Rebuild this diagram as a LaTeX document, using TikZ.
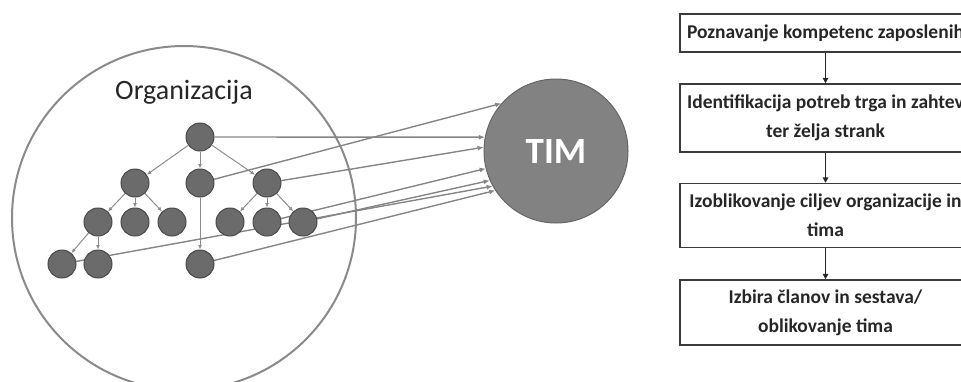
\documentclass[tikz,border=0pt]{standalone}
\usepackage{fontspec}
\setmainfont{Carlito}
\usetikzlibrary{arrows.meta}
\pgfdeclarelayer{bg}
\pgfsetlayers{bg,main}
\definecolor{nodefill}{HTML}{6B6B6B}
\definecolor{nodeedge}{HTML}{4A4A4A}
\definecolor{treeline}{HTML}{8C8C8C}
\definecolor{linkgray}{HTML}{858585}
\definecolor{orgedge}{HTML}{8A8A8A}
\definecolor{timfill}{HTML}{828282}
\definecolor{timedge}{HTML}{666666}
\definecolor{boxedge}{HTML}{3A3A3A}
\definecolor{txt}{HTML}{262626}
\begin{document}
\begin{tikzpicture}[x=1pt,y=-1pt,
  member/.style={circle,fill=nodefill,draw=nodeedge,line width=1pt,minimum size=28pt,inner sep=0pt},
  tree/.style={draw=treeline,line width=1pt,-{Latex[length=4.5pt,width=4pt]}},
  link/.style={draw=linkgray,line width=1.4pt,-{Latex[length=6pt,width=5pt]}},
  box/.style={draw=boxedge,line width=1.4pt,minimum width=291pt,align=center,text=txt,
    font=\bfseries\fontsize{19.5}{29}\selectfont,inner sep=0pt},
  flow/.style={draw=black!85,line width=1.3pt,-{Triangle[length=5.5pt,width=5.5pt]}}
]
\useasboundingbox (0,0) rectangle (961,381);
\clip (0,0) rectangle (961,381);

% organization members
\node[member] (root) at (200,137) {};
\node[member] (l2a) at (135,183) {};
\node[member] (l2b) at (200,183) {};
\node[member] (l2c) at (267,183) {};
\node[member] (l3a) at (98,222) {};
\node[member] (l3b) at (135,222) {};
\node[member] (l3c) at (172,222) {};
\node[member] (l3d) at (230,222) {};
\node[member] (l3e) at (267,222) {};
\node[member] (l3f) at (303,222) {};
\node[member] (l4a) at (62,264) {};
\node[member] (l4b) at (98,264) {};
\node[member] (l4c) at (200,264) {};

\node[font=\fontsize{28}{30}\selectfont,text=txt] (orglabel) at (184,92) {Organizacija};

\node[circle,fill=timfill,draw=timedge,line width=1pt,minimum size=144pt,inner sep=0pt,
  text=white,font=\bfseries\fontsize{37}{40}\selectfont] (tim) at (556,151) {TIM};

% flowchart
\node[box,minimum height=38pt] (b1) at (825.5,33) {Poznavanje kompetenc zaposlenih};
\node[box,minimum height=68pt] (b2) at (825.5,118) {Identifikacija potreb trga in zahtev\\ter želja strank};
\node[box,minimum height=64pt] (b3) at (825.5,215.5) {Izoblikovanje ciljev organizacije in\\tima};
\node[box,minimum height=65pt] (b4) at (825.5,312.5) {Izbira članov in sestava/\\oblikovanje tima};
\draw[flow] (b1) -- (b2);
\draw[flow] (b2) -- (b3);
\draw[flow] (b3) -- (b4);

\begin{pgfonlayer}{bg}
  \clip (0,0) rectangle (961,381);
  \draw[orgedge,line width=2pt] (184,218) circle[radius=172pt];
  % hierarchy
  \draw[tree] (root) -- (l2a);
  \draw[tree] (root) -- (l2b);
  \draw[tree] (root) -- (l2c);
  \draw[tree] (l2a) -- (l3a);
  \draw[tree] (l2a) -- (l3b);
  \draw[tree] (l2a) -- (l3c);
  \draw[tree] (l2c) -- (l3d);
  \draw[tree] (l2c) -- (l3e);
  \draw[tree] (l2c) -- (l3f);
  \draw[tree] (l3a) -- (l4a);
  \draw[tree] (l3a) -- (l4b);
  \draw[tree] (l2b) -- (l4c);
  % links to team
  \draw[link] (l2b) -- (tim.139);
  \draw[link] (root) -- (tim.169);
  \draw[link] (l2c) -- (tim.177);
  \draw[link] (l3e) -- (tim.194);
  \draw[link] (l3f) -- (tim.204);
  \draw[link] (l4a) -- (tim.209);
  \draw[link] (l4c) -- (tim.213);
\end{pgfonlayer}
\end{tikzpicture}
\end{document}
